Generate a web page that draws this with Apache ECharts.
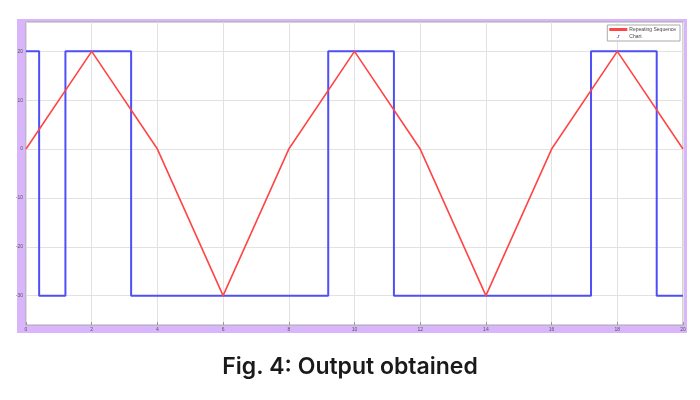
<!DOCTYPE html>
<html>
<head>
<meta charset="utf-8">
<script src="https://cdn.jsdelivr.net/npm/echarts@6/dist/echarts.min.js"></script>
<style>html,body{margin:0;padding:0;background:#fff}#c{width:700px;height:400px}</style>
</head>
<body>
<div id="c"></div>
<script>
// Repeating Sequence (triangle wave)
var repX = [0, 2, 4, 6, 8, 10, 12, 14, 16, 18, 20];
var repY = [0, 20, 0, -30, 0, 20, 0, -30, 0, 20, 0];
// Chart (step signal): value holds from each x until the next
var chartX = [0, 0.4, 1.2, 3.2, 9.2, 11.2, 17.2, 19.2, 20];
var chartY = [20, -30, 20, -30, 20, -30, 20, -30, -30];
// Tick / gridline values
var yTicks = [-30, -20, -10, 0, 10, 20];
var xTicks = [0, 2, 4, 6, 8, 10, 12, 14, 16, 18, 20];
var legendNames = ['Repeating Sequence', 'Chart'];
var caption = 'Fig. 4: Output obtained';

var chart = echarts.init(document.getElementById('c'), null, {renderer: 'canvas'});
function pairs(xs, ys) { return xs.map(function (x, i) { return [x, ys[i]]; }); }

var option = {
  animation: false,
  backgroundColor: '#ffffff',
  title: {
    text: caption,
    left: 'center',
    top: 351,
    textStyle: {fontFamily: 'Inter', fontWeight: 600, fontSize: 23, color: '#1a1a1a'}
  },
  graphic: [{
    type: 'rect', z: -10, silent: true,
    shape: {x: 17, y: 19, width: 670, height: 314},
    style: {fill: '#d9b6fb'}
  }],
  grid: {
    left: 26, top: 22, right: 17, bottom: 75,
    show: true, backgroundColor: '#ffffff', borderColor: '#a8a8a8', borderWidth: 1
  },
  legend: {
    data: [
      {name: legendNames[0], icon: 'rect'},
      {name: legendNames[1], icon: 'path://M0,8 L4,8 L4,0 L10,0 L10,2 L6,2 L6,10 L0,10 Z'}
    ],
    orient: 'vertical',
    right: 20, top: 25,
    itemWidth: 18, itemHeight: 3, itemGap: 2,
    padding: [2, 4, 2, 2],
    backgroundColor: '#ffffff',
    borderColor: '#aaaaaa', borderWidth: 1,
    textStyle: {fontSize: 5, color: '#444', padding: [0, 0, 0, -3]}
  },
  xAxis: {
    type: 'value', min: 0, max: 20, interval: 2,
    axisLine: {show: false, onZero: false},
    axisTick: {show: true, inside: true, length: 3, lineStyle: {color: '#999'}},
    splitLine: {show: true, lineStyle: {color: '#e2e2e2', width: 1}},
    axisLabel: {fontSize: 5, color: '#555', margin: 2}
  },
  yAxis: {
    type: 'value', min: -36, max: 26, interval: 2,
    axisLine: {show: false},
    axisTick: {show: false},
    splitLine: {show: false},
    axisLabel: {
      fontSize: 5, color: '#555', margin: 3,
      formatter: function (v) { return (v % 10 === 0) ? String(v) : ''; }
    }
  },
  series: [
    {
      name: '_grid', type: 'line', data: [], z: 1, silent: true,
      markLine: {
        z: 1, silent: true, symbol: 'none', label: {show: false}, animation: false,
        lineStyle: {color: '#e2e2e2', width: 1, type: 'solid'},
        data: yTicks.map(function (v) { return {yAxis: v}; })
      }
    },
    {
      name: legendNames[1], type: 'line', step: 'end', z: 3,
      data: pairs(chartX, chartY), showSymbol: false, symbol: 'none',
      lineStyle: {color: '#4f4ff7', width: 2},
      itemStyle: {color: '#4f4ff7'}
    },
    {
      name: legendNames[0], type: 'line', z: 4,
      data: pairs(repX, repY), showSymbol: false, symbol: 'none',
      lineStyle: {color: '#ff4545', width: 1.6},
      itemStyle: {color: '#ff4545'}
    }
  ]
};
chart.setOption(option);
</script>
</body>
</html>
